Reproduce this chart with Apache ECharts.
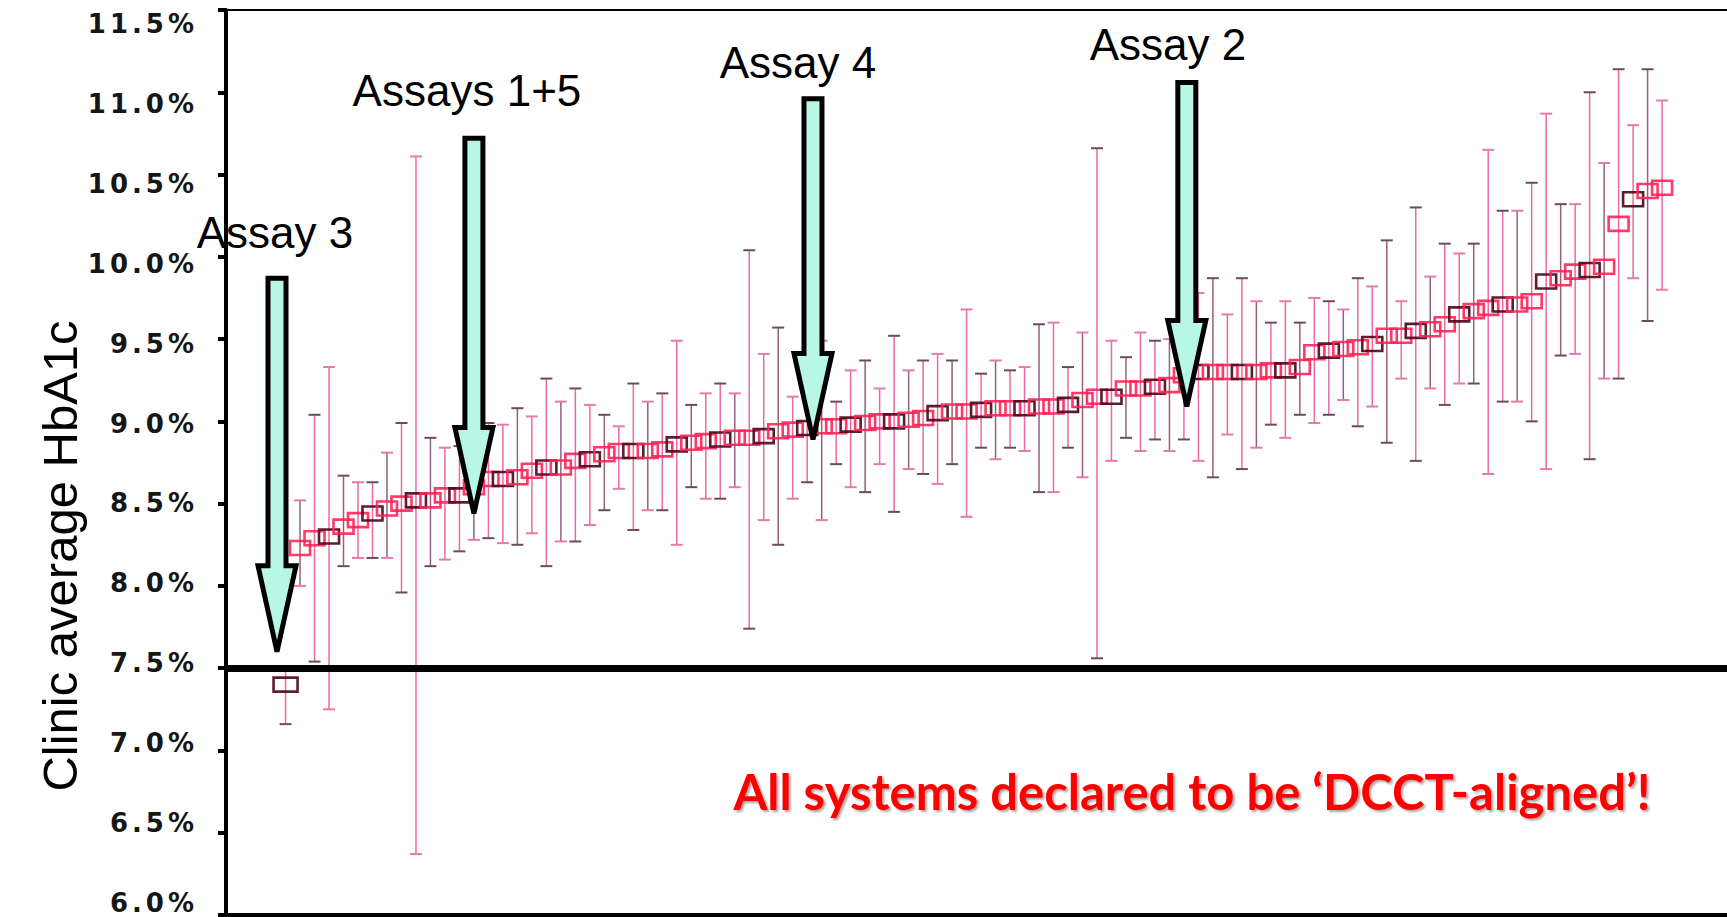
<!DOCTYPE html>
<html><head><meta charset="utf-8">
<script src="https://cdn.jsdelivr.net/npm/echarts@6/dist/echarts.min.js"></script>
<style>
html,body{margin:0;padding:0;background:#fff;overflow:hidden}
#chart{width:1727px;height:917px;}
#chart svg text[style*="Verdana"]{letter-spacing:4px;}
</style>
</head><body><div id="chart"></div>
<script>
// ---- data (clinics sorted by average HbA1c, %) ----
const clinicMean = [7.40, 8.23, 8.29, 8.30, 8.36, 8.40, 8.44, 8.47, 8.50, 8.52,
  8.52, 8.55, 8.55, 8.60, 8.65, 8.65, 8.66, 8.70, 8.72, 8.72,
  8.76, 8.77, 8.80, 8.82, 8.82, 8.82, 8.83, 8.86, 8.87, 8.88,
  8.89, 8.90, 8.90, 8.91, 8.94, 8.95, 8.96, 8.97, 8.97, 8.98,
  8.99, 9.00, 9.00, 9.01, 9.02, 9.05, 9.06, 9.06, 9.07, 9.08,
  9.08, 9.08, 9.09, 9.09, 9.10, 9.13, 9.15, 9.15, 9.20, 9.20,
  9.21, 9.22, 9.28, 9.30, 9.30, 9.30, 9.30, 9.30, 9.31, 9.31,
  9.33, 9.42, 9.43, 9.44, 9.45, 9.47, 9.52, 9.52, 9.55, 9.56,
  9.59, 9.65, 9.67, 9.69, 9.71, 9.71, 9.73, 9.85, 9.87, 9.91,
  9.92, 9.94, 10.20, 10.35, 10.40, 10.42];
const clinicLow = [7.16, 8.00, 7.54, 7.25, 8.12, 8.17, 8.17, 8.17, 7.96, 6.37,
  8.12, 8.16, 8.21, 8.28, 8.29, 8.26, 8.25, 8.32, 8.12, 8.27,
  8.27, 8.37, 8.46, 8.59, 8.34, 8.46, 8.46, 8.25, 8.60, 8.53,
  8.53, 8.60, 7.74, 8.40, 8.25, 8.53, 8.63, 8.40, 8.74, 8.60,
  8.57, 8.74, 8.45, 8.71, 8.68, 8.62, 8.74, 8.42, 8.84, 8.77,
  8.84, 8.82, 8.57, 8.57, 8.84, 8.66, 7.56, 8.76, 8.90, 8.82,
  8.89, 8.82, 8.89, 8.76, 8.66, 8.92, 8.71, 8.84, 8.98, 8.90,
  9.04, 8.99, 9.04, 9.13, 8.97, 9.09, 8.87, 9.26, 8.76, 9.20,
  9.10, 9.23, 9.23, 8.68, 9.12, 9.12, 9.00, 8.71, 9.40, 9.41,
  8.77, 9.26, 9.26, 9.87, 9.61, 9.80];
const clinicHigh = [7.50, 8.52, 9.04, 9.33, 8.67, 8.63, 8.63, 8.81, 8.99, 10.61,
  8.90, 8.84, 8.85, 8.95, 8.99, 8.98, 9.08, 9.03, 9.26, 9.12,
  9.20, 9.10, 9.04, 8.97, 9.23, 9.12, 9.17, 9.49, 9.10, 9.17,
  9.23, 9.17, 10.04, 9.41, 9.57, 9.15, 9.20, 9.49, 9.12, 9.31,
  9.37, 9.20, 9.52, 9.31, 9.37, 9.41, 9.37, 9.68, 9.29, 9.37,
  9.31, 9.33, 9.59, 9.60, 9.33, 9.54, 10.66, 9.49, 9.39, 9.54,
  9.49, 9.50, 9.55, 9.78, 9.87, 9.65, 9.87, 9.73, 9.60, 9.73,
  9.60, 9.75, 9.73, 9.68, 9.87, 9.82, 10.10, 9.73, 10.30, 9.88,
  10.08, 10.02, 10.08, 10.65, 10.28, 10.28, 10.45, 10.87, 10.32, 10.32,
  11.00, 10.57, 11.14, 10.80, 11.14, 10.95];
const yTickValues = [6.0, 6.5, 7.0, 7.5, 8.0, 8.5, 9.0, 9.5, 10.0, 10.5, 11.0, 11.5];
const targetHbA1c = 7.5;
const yAxisTitle = 'Clinic average HbA1c';
const noteText = 'All systems declared to be \u2018DCCT-aligned\u2019!';
// annotations: label text, label anchor (rank, value), arrow (rank, top value, tip value)
const annotationText = ['Assay 3', 'Assays 1+5', 'Assay 4', 'Assay 2'];
const annotationRank = [0.27, 13.52, 36.36, 61.9];
const annotationValue = [10.15, 11.01, 11.18, 11.29];
const arrowRank = [0.41, 14.0, 37.4, 63.2];
const arrowTopValue = [9.87, 10.72, 10.96, 11.06];
const arrowTipValue = [7.60, 8.44, 8.89, 9.09];

const rows = clinicMean.map((m, i) => [i + 1, clinicLow[i], clinicHigh[i], m]);

const chart = echarts.init(document.getElementById('chart'), null, {renderer: 'svg'});
const xCommon = {type: 'value', min: -3.11, max: 100.48, axisTick: {show: false},
  axisLabel: {show: false}, splitLine: {show: false}};
chart.setOption({
  animation: false,
  backgroundColor: '#fff',
  grid: {left: 226, right: 0, top: 10, bottom: 2},
  xAxis: [
    Object.assign({}, xCommon, {position: 'bottom', axisLine: {show: true, onZero: false, lineStyle: {color: '#000', width: 4}}}),
    Object.assign({}, xCommon, {position: 'top', axisLine: {show: true, onZero: false, lineStyle: {color: '#000', width: 2}}})
  ],
  yAxis: [
    {
      type: 'value', min: 6, max: 11.5, interval: 0.5,
      axisLine: {show: true, onZero: false, lineStyle: {color: '#000', width: 4}},
      axisTick: {show: true, length: 8, lineStyle: {color: '#000', width: 4}},
      splitLine: {show: false},
      axisLabel: {show: false}
    },
    {
      // tick-label carrier: the printed labels sit slightly below their ticks in the original
      type: 'value', position: 'left', min: 5.924, max: 11.588,
      axisLine: {show: false}, axisTick: {show: false}, splitLine: {show: false},
      axisLabel: {show: true, customValues: yTickValues, formatter: v => v.toFixed(1) + '%',
        fontFamily: '"DejaVu Sans", Verdana', fontWeight: 'bold', fontSize: 26, color: '#161616', margin: 28}
    }
  ],
  series: [
    {
      type: 'custom', name: 'range', data: rows, z: 2,
      encode: {x: 0, y: [1, 2]},
      renderItem: (params, api) => {
        const i = params.dataIndex;
        const lo = api.coord([api.value(0), api.value(1)]);
        const hi = api.coord([api.value(0), api.value(2)]);
        const stem = i % 3 === 1 ? '#94607c' : '#ec6aa4';
        const cap = i % 2 === 0 ? '#6a4c5c' : '#e87aa8';
        const w = 6;
        return {type: 'group', children: [
          {type: 'line', shape: {x1: lo[0], y1: lo[1], x2: hi[0], y2: hi[1]}, style: {stroke: stem, lineWidth: 1.5}},
          {type: 'line', shape: {x1: lo[0] - w, y1: lo[1], x2: lo[0] + w, y2: lo[1]}, style: {stroke: cap, lineWidth: 2}},
          {type: 'line', shape: {x1: hi[0] - w, y1: hi[1], x2: hi[0] + w, y2: hi[1]}, style: {stroke: cap, lineWidth: 2}}
        ]};
      }
    },
    {
      type: 'custom', name: 'mean', data: rows, z: 3,
      encode: {x: 0, y: 3},
      renderItem: (params, api) => {
        const i = params.dataIndex;
        const p = api.coord([api.value(0), api.value(3)]);
        const w = i === 0 ? 24 : 20, h = 14;
        const stroke = i % 3 === 0 ? '#4a0618' : '#ff2458';
        return {type: 'rect', shape: {x: p[0] - w / 2, y: p[1] - h / 2, width: w, height: h},
          style: {fill: 'rgba(255,255,255,0)', stroke: stroke, lineWidth: 2.6, opacity: 0.9}};
      },
      markLine: {
        silent: true, symbol: ['none', 'none'], label: {show: false},
        lineStyle: {color: '#000', width: 7, type: 'solid'},
        data: [{yAxis: targetHbA1c}]
      }
    }
  ]
});

function px(rank, val) { return chart.convertToPixel({xAxisIndex: 0, yAxisIndex: 0}, [rank, val]); }
const graphics = [];
arrowRank.forEach((r, k) => {
  const top = px(r, arrowTopValue[k]);
  const tip = px(r, arrowTipValue[k]);
  const cx = top[0], sh = 9, hh = 19, hl = 86;
  const hy = tip[1] - hl;
  graphics.push({type: 'polygon', z: 100,
    shape: {points: [[cx - sh, top[1]], [cx + sh, top[1]], [cx + sh, hy], [cx + hh, hy], [cx, tip[1]], [cx - hh, hy], [cx - sh, hy]]},
    style: {fill: '#b8f6e6', stroke: '#000', lineWidth: 5, lineJoin: 'miter'}});
});
annotationText.forEach((t, k) => {
  const p = px(annotationRank[k], annotationValue[k]);
  graphics.push({type: 'text', z: 101, x: p[0], y: p[1],
    style: {text: t, fill: '#000', font: '44px "Liberation Sans", Arial, sans-serif', align: 'center', verticalAlign: 'middle'}});
});
graphics.push({type: 'text', z: 101, x: 60, y: 556, rotation: Math.PI / 2,
  style: {text: yAxisTitle, fill: '#000', font: '49px "Liberation Sans", Arial, sans-serif', align: 'center', verticalAlign: 'middle'}});
graphics.push({type: 'text', z: 101, x: 1192, y: 791,
  style: {text: noteText, fill: '#ff0000', font: 'bold 49px Lato, "Open Sans", sans-serif', align: 'center', verticalAlign: 'middle',
    textShadowColor: 'rgba(0,0,0,0.35)', textShadowOffsetX: 2, textShadowOffsetY: 2, textShadowBlur: 2}});
chart.setOption({graphic: graphics});
</script>
</body></html>
